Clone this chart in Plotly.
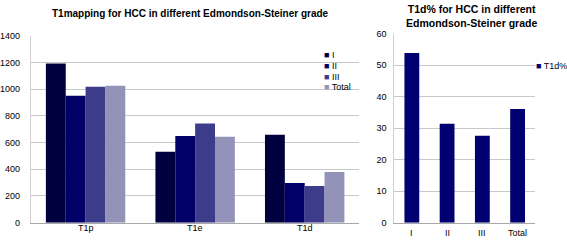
import plotly.graph_objects as go

categories = ["T1p", "T1e", "T1d"]
grades = ["I", "II", "III", "Total"]
values_I = [1192, 531, 659]
values_II = [950, 649, 296]
values_III = [1017, 743, 275]
values_Total = [1026, 644, 380]
t1d_pct_labels = ["I", "II", "III", "Total"]
t1d_pct = [53.9, 31.4, 27.6, 36.1]

colors = ["#00003f", "#000068", "#3c3c8a", "#9393ba"]
right_color = "#000070"
series = [values_I, values_II, values_III, values_Total]

W, H = 567, 243
FONT = "Liberation Sans, Arial"

def px_x(a, b):
    return [a / W, b / W]

def px_y(top, bottom):
    return [(H - bottom) / H, (H - top) / H]

fig = go.Figure()
xpos = list(range(len(categories)))
xpos2 = list(range(len(t1d_pct_labels)))
for name, vals, col in zip(grades, series, colors):
    fig.add_trace(go.Bar(x=xpos, y=vals, name=name,
                         marker=dict(color=col, line=dict(width=0)),
                         xaxis="x", yaxis="y", showlegend=False))

fig.add_trace(go.Bar(x=xpos2, y=t1d_pct, name="T1d%",
                     marker=dict(color=right_color, line=dict(width=0)),
                     xaxis="x2", yaxis="y2", width=0.42, showlegend=False))

ann = []
# category labels placed through the axes' own scales
for i, c in enumerate(categories):
    ann.append(dict(text=c, x=xpos[i], xref="x", y=(H - 232.5) / H, yref="paper",
                    showarrow=False, xanchor="center", yanchor="middle",
                    font=dict(size=9, family=FONT, color="#000000")))
for i, c in enumerate(t1d_pct_labels):
    ann.append(dict(text=c, x=xpos2[i], xref="x2", y=(H - 237.5) / H, yref="paper",
                    showarrow=False, xanchor="center", yanchor="middle",
                    font=dict(size=9, family=FONT, color="#000000")))

# legend entries as text
for i, (name, col) in enumerate(zip(grades, colors)):
    ann.append(dict(
        text=f"<span style='color:{col}'>■</span> {name}",
        x=320 / W, y=(H - (52 + 11.3 * i)) / H, xref="paper", yref="paper",
        showarrow=False, xanchor="left", yanchor="middle", align="left",
        font=dict(size=9, family=FONT, color="#000000")))
ann.append(dict(
    text=f"<span style='color:{right_color}'>■</span> T1d%",
    x=534 / W, y=(H - 64) / H, xref="paper", yref="paper",
    showarrow=False, xanchor="left", yanchor="middle", align="left",
    font=dict(size=9, family=FONT, color="#000000")))

ann += [
    dict(text="<b>T1mapping for HCC in different Edmondson-Steiner grade</b>",
         x=188 / W, y=(H - 9) / H, xref="paper", yref="paper", showarrow=False,
         xanchor="center", yanchor="middle", font=dict(size=10, family=FONT)),
    dict(text="<b>T1d% for HCC in different<br>Edmondson-Steiner grade</b>",
         x=471 / W, y=(H - 11) / H, xref="paper", yref="paper", showarrow=False,
         xanchor="center", yanchor="middle", font=dict(size=10.5, family=FONT)),
]

fig.update_layout(
    width=W, height=H,
    margin=dict(l=0, r=0, t=0, b=0),
    paper_bgcolor="white", plot_bgcolor="white",
    font=dict(family=FONT, size=9, color="#000000"),
    barmode="group", bargap=0.275, bargroupgap=0,
    showlegend=False,
    xaxis=dict(domain=px_x(27, 358), range=[-0.5, 2.5], tickvals=xpos,
               showticklabels=False, showgrid=False, showline=True, linecolor="#a8a8a8",
               linewidth=1, ticks="", zeroline=False),
    yaxis=dict(domain=px_y(32, 227), range=[0, 1400], dtick=200, showgrid=True,
               gridcolor="#c8c8c8", gridwidth=1, showline=True, linecolor="#d0d0d0",
               ticks="", zeroline=False, tickfont=dict(size=9), ticklabelstandoff=8),
    xaxis2=dict(domain=px_x(393, 535), range=[-0.5, 3.5], tickvals=xpos2,
                showticklabels=False, showgrid=False, showline=True, linecolor="#a8a8a8",
                ticks="", zeroline=False, anchor="y2"),
    yaxis2=dict(domain=px_y(30, 227), range=[0, 60], dtick=10, showgrid=True,
                gridcolor="#c8c8c8", gridwidth=1, showline=True, linecolor="#d0d0d0",
                ticks="", zeroline=False, tickfont=dict(size=9), anchor="x2",
                ticklabelstandoff=5),
    annotations=ann,
)

fig.write_html("out.html", config={"displayModeBar": False},
               post_script="document.body.style.margin='0';document.body.style.padding='0';")
